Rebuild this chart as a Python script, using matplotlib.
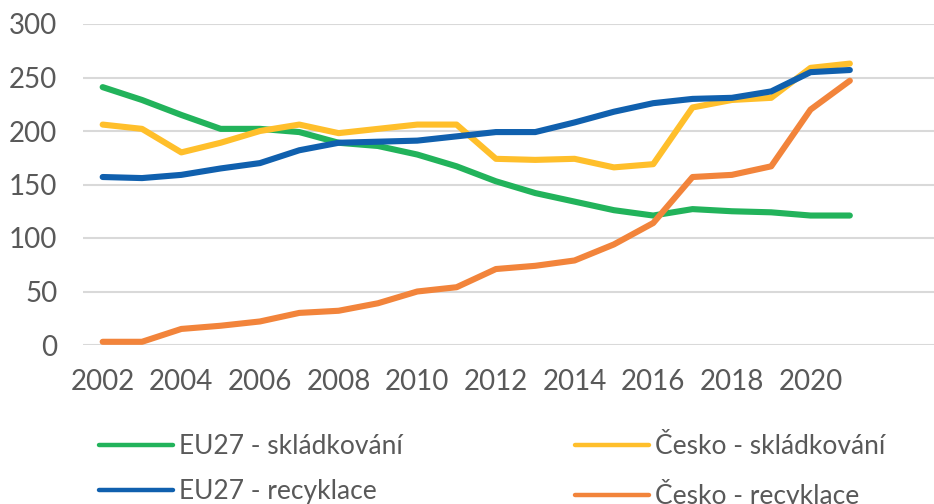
import matplotlib
matplotlib.use("Agg")
import matplotlib.pyplot as plt
from matplotlib.lines import Line2D

years = list(range(2002, 2022))
eu_landfill = [241, 229, 215, 202, 202, 199, 189, 186, 178, 167, 153, 142, 134, 126, 121, 127, 125, 124, 121, 121]
cz_landfill = [206, 202, 180, 189, 200, 206, 198, 202, 206, 206, 174, 173, 174, 166, 169, 222, 229, 231, 259, 263]
eu_recycl = [157, 156, 159, 165, 170, 182, 189, 190, 191, 195, 199, 199, 208, 218, 226, 230, 231, 237, 255, 257]
cz_recycl = [3, 3, 15, 18, 22, 30, 32, 39, 50, 54, 71, 74, 79, 94, 114, 157, 159, 167, 220, 247]

labels = ["EU27 - skládkování", "Česko - skládkování", "EU27 - recyklace", "Česko - recyklace"]
colors = ["#22B35B", "#FFBF2B", "#1060AE", "#F2843B"]
xticks = list(range(2002, 2021, 2))
yticks = [0, 50, 100, 150, 200, 250, 300]

plt.rcParams['font.family'] = ['Lato', 'DejaVu Sans']

fig = plt.figure(figsize=(9.34, 5.04), dpi=100)
ax = fig.add_axes([83/934, 1-345/504, 1-83/934, (345-24)/504])

series = [eu_landfill, cz_landfill, eu_recycl, cz_recycl]
for s, c, l in zip(series, colors, labels):
    ax.plot(years, s, color=c, lw=4.4, solid_capstyle='round', solid_joinstyle='round', label=l, zorder=3)

ax.set_xlim(2001.5, 2023.14)
ax.set_ylim(0, 300)
ax.set_yticks(yticks)
ax.set_xticks(xticks)
ax.yaxis.grid(True, color="#D9D9D9", lw=1.5)
ax.set_axisbelow(True)
for sp in ax.spines.values():
    sp.set_visible(False)
ax.tick_params(length=0, labelsize=20, colors="#595959")
ax.tick_params(axis='x', pad=17)
ax.tick_params(axis='y', pad=18.5)

# legend: column-major order -> EU27 column first, then Česko column
order = [0, 2, 1, 3]
handles = [Line2D([], [], color=colors[i], lw=3.2, solid_capstyle='round') for i in order]
leg = fig.legend(handles=handles, labels=[labels[i] for i in order], ncol=2, loc='upper left',
                 bbox_to_anchor=(75/934, 1-410/504), frameon=False, fontsize=19,
                 handlelength=2.8, handletextpad=0.23, columnspacing=6.55,
                 labelspacing=0.77, labelcolor="#595959")

fig.savefig("out.png", dpi=100)
